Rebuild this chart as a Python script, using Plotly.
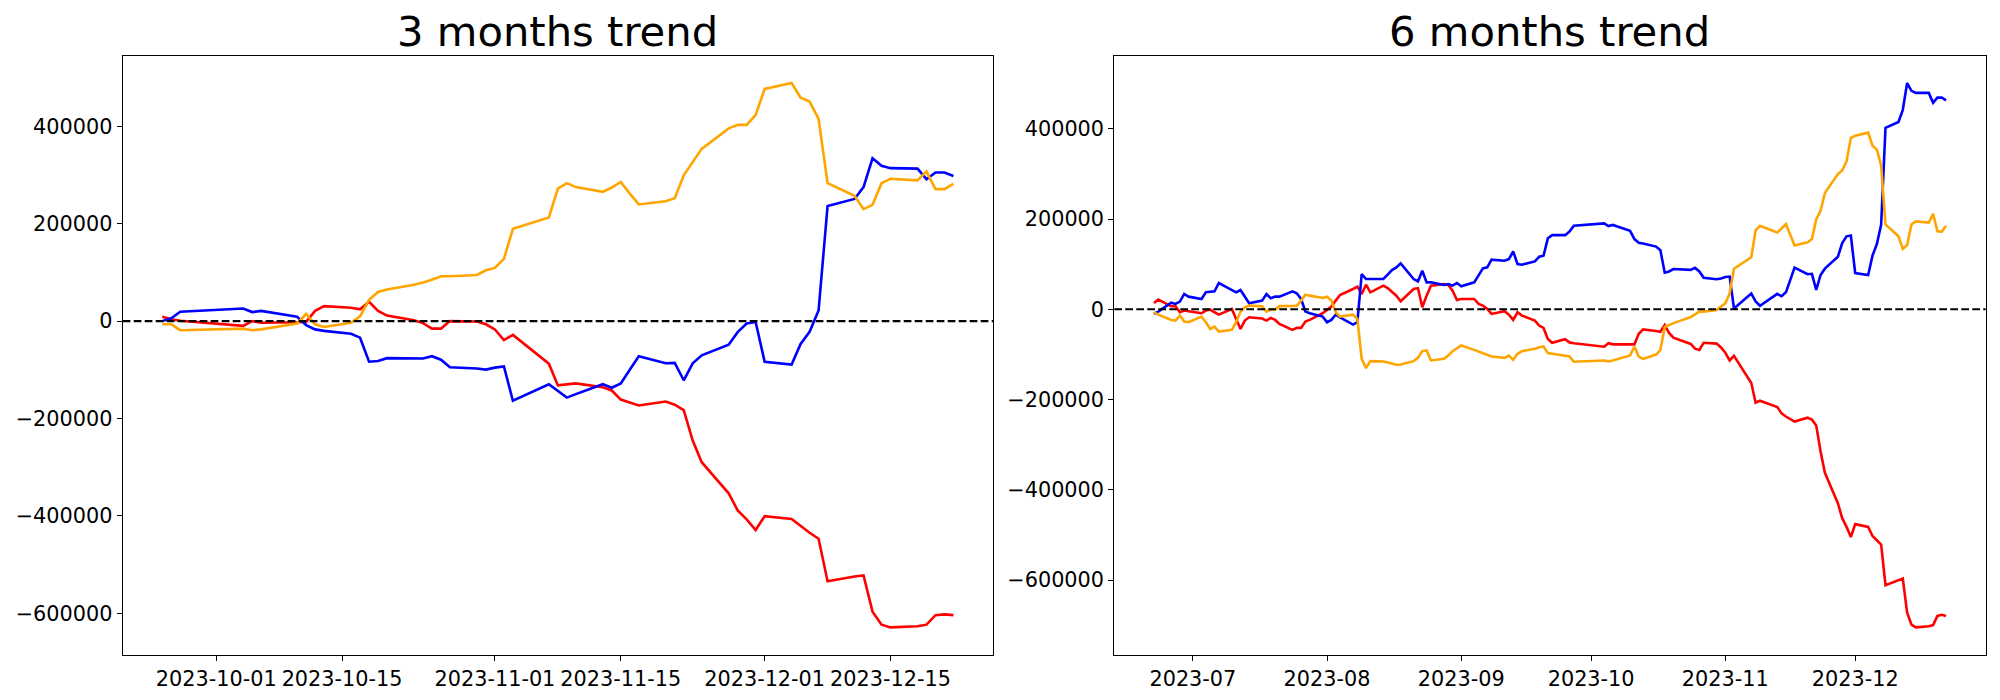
import pandas as pd
import plotly.graph_objects as go

# ---------------- 3 months trend ----------------
dates_3m = [
    "2023-09-25", "2023-09-26", "2023-09-27", "2023-10-04", "2023-10-05", "2023-10-06",
    "2023-10-10", "2023-10-11", "2023-10-12", "2023-10-13", "2023-10-16", "2023-10-17",
    "2023-10-18", "2023-10-19", "2023-10-20", "2023-10-23", "2023-10-24", "2023-10-25",
    "2023-10-26", "2023-10-27", "2023-10-30", "2023-10-31", "2023-11-01", "2023-11-02",
    "2023-11-03", "2023-11-07", "2023-11-08", "2023-11-09", "2023-11-10", "2023-11-13",
    "2023-11-14", "2023-11-15", "2023-11-16", "2023-11-17", "2023-11-20", "2023-11-21",
    "2023-11-22", "2023-11-23", "2023-11-24", "2023-11-27", "2023-11-28", "2023-11-29",
    "2023-11-30", "2023-12-01", "2023-12-04", "2023-12-05", "2023-12-06", "2023-12-07",
    "2023-12-08", "2023-12-11", "2023-12-12", "2023-12-13", "2023-12-14", "2023-12-15",
    "2023-12-18", "2023-12-19", "2023-12-20", "2023-12-21", "2023-12-22",
]
blue_3m = [
    0, 5700, 19400, 25900, 18600, 21000,
    8900, -8100, -17000, -20000, -25900, -34000,
    -83400, -81800, -76100, -76500, -76900, -72000,
    -79300, -94700, -97200, -99600, -95500, -93100,
    -163600, -129600, -143000, -157100, -150000, -129600,
    -136800, -127900, -100000, -72100, -86600, -85800,
    -121500, -86600, -70400, -48600, -22700, -4900,
    -1600, -83400, -89100, -47000, -21900, 21900,
    236400, 251000, 275300, 334400, 319000, 314200,
    313300, 291500, 305300, 305300, 298000,
]
red_3m = [
    8900, 4000, 800, -9700, 0, -3200,
    -2400, -1600, 21000, 30800, 27500, 24300,
    39700, 21000, 11300, 2000, -4000, -15400,
    -15400, 0, -800, -6500, -17000, -38900,
    -28300, -87400, -132000, -129600, -127900, -136000,
    -142500, -161100, -167000, -173300, -165200, -171700,
    -183000, -245300, -289800, -353800, -388700, -407300,
    -429100, -400800, -406500, -421000, -434800, -447000,
    -534400, -524700, -522300, -596800, -623500, -629100,
    -626700, -623500, -604000, -602400, -604000,
]
orange_3m = [
    -6500, -6500, -18600, -15400, -18600, -17000,
    -4900, 14600, -6500, -12100, -3200, 9700,
    43700, 59900, 64800, 74500, 79400, 85000,
    92300, 92300, 94700, 104500, 109300, 127900,
    189500, 213000, 272100, 283400, 275300, 265600,
    274500, 285800, 262000, 239700, 246100, 252600,
    299600, 327100, 353800, 395900, 403200, 403200,
    423500, 476900, 489100, 459100, 451000, 415400,
    283400, 257500, 230000, 238900, 283400, 292300,
    289100, 307700, 271200, 271200, 281800,
]

# ---------------- 6 months trend ----------------
dates_6m = [
    "2023-06-22", "2023-06-23", "2023-06-26", "2023-06-27", "2023-06-28", "2023-06-29", "2023-06-30",
    "2023-07-03", "2023-07-04", "2023-07-05", "2023-07-06", "2023-07-07",
    "2023-07-10", "2023-07-11", "2023-07-12", "2023-07-13", "2023-07-14",
    "2023-07-17", "2023-07-18", "2023-07-19", "2023-07-20", "2023-07-21",
    "2023-07-24", "2023-07-25", "2023-07-26", "2023-07-27", "2023-07-28",
    "2023-07-31", "2023-08-01", "2023-08-02", "2023-08-03", "2023-08-04",
    "2023-08-07", "2023-08-08", "2023-08-09", "2023-08-10", "2023-08-11",
    "2023-08-14", "2023-08-15", "2023-08-16", "2023-08-17", "2023-08-18",
    "2023-08-21", "2023-08-22", "2023-08-23", "2023-08-24", "2023-08-25",
    "2023-08-28", "2023-08-29", "2023-08-30", "2023-08-31", "2023-09-01",
    "2023-09-04", "2023-09-05", "2023-09-06", "2023-09-07", "2023-09-08",
    "2023-09-11", "2023-09-12", "2023-09-13", "2023-09-14", "2023-09-15",
    "2023-09-18", "2023-09-19", "2023-09-20", "2023-09-21", "2023-09-22",
    "2023-09-25", "2023-09-26", "2023-09-27",
    "2023-10-04", "2023-10-05", "2023-10-06",
    "2023-10-10", "2023-10-11", "2023-10-12", "2023-10-13",
    "2023-10-16", "2023-10-17", "2023-10-18", "2023-10-19", "2023-10-20",
    "2023-10-24", "2023-10-25", "2023-10-26", "2023-10-27",
    "2023-10-30", "2023-10-31", "2023-11-01", "2023-11-02", "2023-11-03",
    "2023-11-07", "2023-11-08", "2023-11-09",
    "2023-11-13", "2023-11-14", "2023-11-15", "2023-11-17",
    "2023-11-20", "2023-11-21", "2023-11-22", "2023-11-23", "2023-11-24",
    "2023-11-27", "2023-11-28", "2023-11-29", "2023-11-30", "2023-12-01",
    "2023-12-04", "2023-12-05", "2023-12-06", "2023-12-07", "2023-12-08",
    "2023-12-11", "2023-12-12", "2023-12-13", "2023-12-14", "2023-12-15",
    "2023-12-18", "2023-12-19", "2023-12-20", "2023-12-21", "2023-12-22",
]
blue_6m = [
    -10300, -5200, 14700, 11800, 16900, 33900, 28000,
    22800, 37600, 39000, 39800, 58200,
    42700, 37600, 42700, 28000, 13300,
    19200, 33900, 24300, 28000, 28000,
    39800, 35400, 22800, -5200, -8800,
    -16200, -28700, -23600, -11800, -17700,
    -33900, -28700, 78100, 67000, 67000,
    67000, 76600, 86900, 92800, 101700,
    67000, 61900, 85500, 59700, 59700,
    53800, 56000, 52300, 58200, 50800,
    59700, 74400, 90600, 92800, 109800,
    107600, 111200, 128200, 100200, 98700,
    106100, 116400, 118600, 157200, 164200,
    164200, 172100, 185200,
    190400, 184300, 186900,
    173800, 155500, 147600, 145900,
    138900, 131000, 81200, 83800, 89100,
    87300, 91700, 83800, 69900,
    66400, 68100, 71600, 72500, 1700,
    34900, 17500, 7900,
    34100, 28800, 37600, 92600,
    77700, 78600, 42800, 76000, 90000,
    116200, 146700, 161600, 163300, 80400,
    76000, 118800, 144100, 187800, 401800,
    414900, 441900, 501300, 483900, 479500,
    479500, 457700, 469000, 469000, 462900,
]
red_6m = [
    14000, 21400, 6600, 6600, -6600, -2900, -4400,
    -8800, -2900, -700, -6600, -11800,
    700, -21000, -43500, -25000, -17700,
    -20600, -25000, -19200, -23600, -32400,
    -45700, -41300, -41300, -27300, -23600,
    -8800, -1500, 5900, 19200, 31700,
    44900, 50100, 33900, 54500, 37600,
    52300, 47100, 37600, 30200, 17700,
    44900, 46400, 4400, 30200, 52300,
    56000, 53800, 41300, 20600, 22800,
    22800, 11800, 8100, 700, -10300,
    -4400, -11800, -23600, -6600, -14000,
    -25000, -36100, -41300, -65600, -74200,
    -66400, -73400, -75100,
    -83000, -75100, -77700,
    -77700, -77700, -54200, -44500,
    -48000, -49800, -34900, -52400, -62900,
    -76900, -87300, -90000, -74200,
    -76000, -84700, -96100, -113500, -103100,
    -163300, -207000, -202600,
    -216600, -230600, -237600, -248900,
    -240200, -244500, -257600, -314400, -362400,
    -429700, -462900, -482100, -504800, -476000,
    -482100, -502200, -510900, -521400, -611400,
    -600900, -596500, -672500, -698700, -704800,
    -702200, -699600, -679500, -676900, -679500,
]
orange_6m = [
    -6600, -11800, -23600, -25000, -14000, -27300, -28700,
    -16200, -28700, -43500, -38300, -49400,
    -45700, -28700, -5200, 4400, 8100,
    6600, -5200, -700, -700, 7000,
    7400, 8100, 19200, 32400, 30200,
    25000, 28000, 19200, -6600, -16200,
    -11800, -21400, -109800, -130400, -114900,
    -115700, -117900, -120800, -123000, -122300,
    -114900, -107600, -92800, -91300, -113400,
    -109800, -102400, -92800, -85500, -80300,
    -89900, -93600, -98700, -100900, -104600,
    -107600, -102400, -112000, -98700, -92800,
    -87700, -84000, -82500, -97200, -98700,
    -103100, -104800, -116200,
    -113500, -115300, -113500,
    -102200, -83000, -104800, -110000,
    -100400, -90000, -39300, -34900, -30600,
    -17500, -10500, -5200, -5200,
    -1700, 6100, 13100, 34900, 90000,
    115300, 174700, 185200,
    170300, 179000, 188700, 141500,
    148500, 155500, 199100, 218400, 257700,
    299600, 307400, 327500, 379900, 384300,
    391300, 362500, 353700, 318800, 187800,
    161600, 133600, 142400, 187800, 194800,
    192100, 211400, 172900, 172100, 185200,
]

titles = ["3 months trend", "6 months trend"]
y_tickvals = [-600000, -400000, -200000, 0, 200000, 400000]
x_tickvals_3m = ["2023-10-01", "2023-10-15", "2023-11-01", "2023-11-15", "2023-12-01", "2023-12-15"]
x_ticktext_3m = ["2023-10-01", "2023-10-15", "2023-11-01", "2023-11-15", "2023-12-01", "2023-12-15"]
x_tickvals_6m = ["2023-07-01", "2023-08-01", "2023-09-01", "2023-10-01", "2023-11-01", "2023-12-01"]
x_ticktext_6m = ["2023-07", "2023-08", "2023-09", "2023-10", "2023-11", "2023-12"]

COLORS = {"blue": "#0000ff", "red": "#ff0000", "orange": "#ffa500"}
FONT = "DejaVu Sans"
W, H = 2000, 700

def yfmt(v):
    return ("\u2212" + str(abs(v))) if v < 0 else str(v)

def xrange_of(dates):
    d = pd.to_datetime(dates)
    span = d.max() - d.min()
    lo = d.min() - 0.05 * span
    hi = d.max() + 0.05 * span
    return [lo.strftime("%Y-%m-%d %H:%M:%S"), hi.strftime("%Y-%m-%d %H:%M:%S")]

def yrange_of(*series):
    vals = [v for s in series for v in s]
    lo, hi = min(vals), max(vals)
    m = 0.05 * (hi - lo)
    return [lo - m, hi + m]

fig = go.Figure()

panels = [
    dict(dates=dates_3m, series=[("red", red_3m), ("blue", blue_3m), ("orange", orange_3m)],
         xa="x", ya="y", tv=x_tickvals_3m, tt=x_ticktext_3m),
    dict(dates=dates_6m, series=[("red", red_6m), ("blue", blue_6m), ("orange", orange_6m)],
         xa="x2", ya="y2", tv=x_tickvals_6m, tt=x_ticktext_6m),
]

for p in panels:
    for cname, vals in p["series"]:
        fig.add_trace(go.Scatter(
            x=p["dates"], y=vals, mode="lines",
            line=dict(color=COLORS[cname], width=2.6),
            xaxis=p["xa"], yaxis=p["ya"], showlegend=False, hoverinfo="skip",
        ))

x_domains = [[122.7 / W, 993.0 / W], [1114.3 / W, 1985.7 / W]]
y_domain = [1 - 654.6 / H, 1 - 55.8 / H]

axis_common = dict(
    showline=True, linecolor="black", linewidth=1.1, mirror=True,
    showgrid=False, zeroline=False,
    ticks="outside", ticklen=5, tickwidth=1.1, tickcolor="black",
    tickfont=dict(family=FONT, size=20.8, color="black"),
)

layout_axes = {}
for i, p in enumerate(panels):
    suffix = "" if i == 0 else "2"
    ys = [s for _, s in p["series"]]
    layout_axes["xaxis" + suffix] = dict(
        axis_common, domain=x_domains[i], anchor="y" + suffix, type="date",
        range=xrange_of(p["dates"]), tickmode="array", tickvals=p["tv"], ticktext=p["tt"],
    )
    layout_axes["yaxis" + suffix] = dict(
        axis_common, domain=y_domain, anchor="x" + suffix,
        range=yrange_of(*ys), tickmode="array",
        tickvals=y_tickvals, ticktext=[yfmt(v) for v in y_tickvals],
    )

shapes = []
annotations = []
for i, p in enumerate(panels):
    suffix = "" if i == 0 else "2"
    shapes.append(dict(
        type="line", xref="x" + suffix + " domain", x0=0, x1=1,
        yref="y" + suffix, y0=0, y1=0,
        line=dict(color="black", width=2.08, dash="7.7px,3.3px"), layer="above",
    ))
    annotations.append(dict(
        text=titles[i], xref="paper", yref="paper",
        x=(x_domains[i][0] + x_domains[i][1]) / 2, y=y_domain[1],
        xanchor="center", yanchor="bottom", showarrow=False, yshift=-2,
        font=dict(family=FONT, size=41.7, color="black"),
    ))

fig.update_layout(
    width=W, height=H,
    margin=dict(l=0, r=0, t=0, b=0, autoexpand=False),
    paper_bgcolor="white", plot_bgcolor="white",
    font=dict(family=FONT, color="black"),
    shapes=shapes, annotations=annotations,
    **layout_axes,
)

fig.write_html("out.html", include_plotlyjs=True, config={"displayModeBar": False},
               post_script="document.body.style.margin='0';document.body.style.overflow='hidden';")
